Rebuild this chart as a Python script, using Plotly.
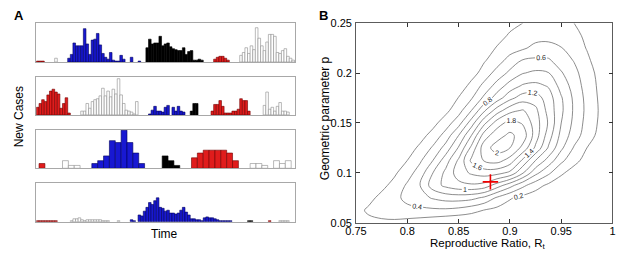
import plotly.graph_objects as go

# ---------------- Panel A data: (colour class, first time bin, new cases per bin)
panel1_runs = [
    ("red", 0, [1, 1, 1]),
    ("white", 7, [4]),
    ("blue", 12, [4, 8, 20, 17, 17, 17, 35, 19, 8, 23, 24, 30, 18, 9, 5, 3, 10, 2, 1, 1, 7, 3, 0, 0, 5, 0, 0, 1]),
    ("black", 42, [15, 24, 19, 20, 20, 27, 17, 19, 20, 16, 14, 13, 12, 12, 15, 8, 11, 12, 2, 2, 3, 2]),
    ("red", 68, [3, 5, 6, 6, 4, 2]),
    ("white", 78, [7, 10, 15, 9, 17, 13, 36, 25, 17, 12, 21, 29, 29, 27, 10, 9, 12, 14, 6, 4, 2]),
]
panel2_runs = [
    ("red", 0, [8, 12, 16, 14, 21, 25, 27, 24, 22, 7, 12, 18, 2]),
    ("white", 17, [4, 4, 12, 7, 14, 16, 17, 20, 28, 20, 25, 19, 27, 22, 38, 21, 12, 5, 4, 3, 1, 14]),
    ("blue", 43, [1, 5, 9, 4, 4, 3, 8, 10, 0, 8, 4, 9, 4, 3]),
    ("black", 59, [4, 12, 12]),
    ("red", 67, [4, 11, 11, 15, 9, 2, 2, 2, 4, 4, 6, 17, 15, 15, 4]),
    ("white", 87, [10, 24, 6, 8, 4, 9, 13, 4, 4, 3]),
]
panel3_runs = [
    ("red", 0, [5]),
    ("white", 4, [8, 3, 3]),
    ("blue", 9, [5, 8, 13, 29, 27, 40, 27, 16, 5]),
    ("black", 21, [13, 8, 3]),
    ("red", 26, [11, 16, 19, 19, 19, 19, 16, 8]),
    ("white", 36, [5, 5, 3, 0, 8, 5, 8]),
]
panel4_runs = [
    ("red", 0, [1, 1, 1, 1, 1, 1, 1, 1]),
    ("white", 13, [1, 3, 3, 4, 2, 1, 2, 2, 2, 2, 2, 2, 1, 1, 1, 0, 0, 0, 1]),
    ("blue", 36, [2, 1, 0, 7, 6, 11, 15, 20, 18, 22, 25, 15, 14, 11, 12, 9, 9, 8, 9, 12, 15, 10, 7, 3, 3,
                  2, 2, 1, 4, 5, 4, 4, 3, 2, 1, 1, 1, 1, 1]),
    ("black", 81, [1, 1]),
    ("red", 89, [1]),
    ("white", 93, [1, 1, 1, 1]),
]

# ---------------- Panel B data: likelihood surface
R_values = [0.75, 0.7625, 0.775, 0.7875, 0.8, 0.8125, 0.825, 0.8375, 0.85, 0.8625, 0.875,
            0.8875, 0.9, 0.9125, 0.925, 0.9375, 0.95, 0.9625, 0.975, 0.9875, 1.0]
p_values = [0.05, 0.0625, 0.075, 0.0875, 0.1, 0.1125, 0.125, 0.1375, 0.15, 0.1625, 0.175,
            0.1875, 0.2, 0.2125, 0.225, 0.2375, 0.25]
likelihood = [
    [0.02, 0.15, 0.16, 0.16, 0.13, 0.10, 0.06, 0.02, 0, 0, 0, 0, 0, 0, 0, 0, 0, 0, 0, 0, 0],
    [0.14, 0.23, 0.28, 0.31, 0.34, 0.35, 0.36, 0.36, 0.33, 0.27, 0.19, 0.14, 0.10, 0.07, 0.04, 0.02, 0.01, 0, 0, 0, 0],
    [0.05, 0.15, 0.25, 0.34, 0.46, 0.53, 0.62, 0.68, 0.69, 0.66, 0.56, 0.37, 0.22, 0.14, 0.09, 0.05, 0.02, 0, 0, 0, 0],
    [0, 0.06, 0.15, 0.26, 0.43, 0.6, 0.9, 1.05, 1.14, 1.17, 1.12, 0.9, 0.68, 0.45, 0.28, 0.16, 0.09, 0.04, 0.02, 0, 0],
    [0, 0.02, 0.08, 0.17, 0.31, 0.5, 0.8, 1.05, 1.3, 1.43, 1.5, 1.47, 1.35, 1.02, 0.66, 0.44, 0.23, 0.12, 0.06, 0.02, 0],
    [0, 0, 0.04, 0.1, 0.2, 0.37, 0.6, 0.91, 1.23, 1.64, 1.82, 1.88, 1.72, 1.36, 1.0, 0.72, 0.45, 0.26, 0.13, 0.05, 0.02],
    [0, 0, 0.02, 0.05, 0.11, 0.24, 0.43, 0.68, 1.02, 1.45, 1.92, 2.08, 2.0, 1.74, 1.36, 0.98, 0.64, 0.38, 0.2, 0.08, 0.03],
    [0, 0, 0, 0.02, 0.06, 0.13, 0.27, 0.48, 0.8, 1.2, 1.7, 1.93, 2.04, 1.92, 1.5, 1.1, 0.74, 0.5, 0.3, 0.14, 0.06],
    [0, 0, 0, 0, 0.02, 0.06, 0.14, 0.3, 0.52, 0.9, 1.35, 1.7, 1.88, 1.78, 1.5, 1.18, 0.8, 0.55, 0.33, 0.17, 0.08],
    [0, 0, 0, 0, 0, 0, 0.03, 0.15, 0.32, 0.6, 0.97, 1.3, 1.53, 1.62, 1.45, 1.13, 0.84, 0.57, 0.35, 0.18, 0.08],
    [0, 0, 0, 0, 0, 0, 0, 0.04, 0.21, 0.38, 0.65, 0.9, 1.14, 1.3, 1.3, 1.1, 0.82, 0.56, 0.34, 0.17, 0.07],
    [0, 0, 0, 0, 0, 0, 0, 0, 0.05, 0.27, 0.45, 0.68, 0.88, 1.02, 1.05, 0.98, 0.72, 0.52, 0.31, 0.16, 0.06],
    [0, 0, 0, 0, 0, 0, 0, 0, 0, 0.1, 0.3, 0.47, 0.65, 0.79, 0.84, 0.81, 0.62, 0.46, 0.29, 0.14, 0.05],
    [0, 0, 0, 0, 0, 0, 0, 0, 0, 0, 0.18, 0.32, 0.47, 0.62, 0.64, 0.63, 0.5, 0.39, 0.24, 0.1, 0.03],
    [0, 0, 0, 0, 0, 0, 0, 0, 0, 0, 0.08, 0.22, 0.32, 0.37, 0.46, 0.47, 0.41, 0.3, 0.19, 0.08, 0.02],
    [0, 0, 0, 0, 0, 0, 0, 0, 0, 0, 0, 0.11, 0.23, 0.29, 0.32, 0.33, 0.3, 0.24, 0.17, 0.05, 0],
    [0, 0, 0, 0, 0, 0, 0, 0, 0, 0, 0, 0, 0.13, 0.2, 0.23, 0.24, 0.23, 0.2, 0.12, 0.04, 0],
]
estimate_R = [0.881]
estimate_p = [0.091]
x_ticks = [0.75, 0.8, 0.85, 0.9, 0.95, 1.0]
x_ticktext = ["0.75", "0.8", "0.85", "0.9", "0.95", "1"]
y_ticks = [0.05, 0.1, 0.15, 0.2, 0.25]
y_ticktext = ["0.05", "0.1", "0.15", "0.2", "0.25"]

# ---------------- styles
FONT = "Liberation Sans, Arial, sans-serif"
fills = {"blue": "#1818d2", "red": "#e01c1c", "black": "#000000", "white": "#ffffff"}
edges = {"blue": "#00005c", "red": "#700000", "black": "#000000", "white": "#8c8c8c"}

fig = go.Figure()

panels = [panel1_runs, panel2_runs, panel3_runs, panel4_runs]
for k, runs in enumerate(panels, start=1):
    for colour, start, counts in runs:
        xs = [start + i for i, c in enumerate(counts) if c > 0]
        ys = [c for c in counts if c > 0]
        fig.add_trace(go.Bar(
            x=xs, y=ys, width=1.0,
            marker=dict(color=fills[colour], line=dict(color=edges[colour], width=0.6)),
            xaxis="x" if k == 1 else f"x{k}", yaxis="y" if k == 1 else f"y{k}",
            showlegend=False, hoverinfo="skip",
        ))

fig.add_trace(go.Contour(
    x=R_values, y=p_values, z=likelihood, xaxis="x5", yaxis="y5",
    autocontour=False,
    contours=dict(start=0.2, end=2.01, size=0.2, coloring="none", showlabels=True,
                  labelfont=dict(size=7, color="#222222", family=FONT), labelformat=".2~g"),
    line=dict(width=0.8, smoothing=1.0, color="#707070"),
    showscale=False, hoverinfo="skip",
))
fig.add_trace(go.Scatter(
    x=estimate_R, y=estimate_p, mode="markers", xaxis="x5", yaxis="y5",
    marker=dict(symbol="cross-thin", size=11, line=dict(color="#ee0000", width=1.6)),
    showlegend=False, hoverinfo="skip",
))

W, H = 617, 255
xdomA = [25.7 / W, 290.7 / W]
ydoms = [
    [1 - 58.8 / H, 1 - 18.3 / H],
    [1 - 114.3 / H, 1 - 74.3 / H],
    [1 - 170.3 / H, 1 - 130.0 / H],
    [1 - 226.3 / H, 1 - 186.0 / H],
]
xranges = [[-0.625, 98.75], [-0.625, 98.75], [-1.0, 43.17], [-0.625, 98.75]]
yranges = [[0, 40.5], [0, 40], [0, 40.3], [0, 40.3]]

layout = dict(
    width=W, height=H, autosize=False,
    margin=dict(l=0, r=0, t=0, b=0),
    paper_bgcolor="white", plot_bgcolor="white",
    barmode="overlay", showlegend=False,
    font=dict(family=FONT, size=11, color="#000"),
)
for k in range(1, 5):
    xa = "xaxis" if k == 1 else f"xaxis{k}"
    ya = "yaxis" if k == 1 else f"yaxis{k}"
    layout[xa] = dict(domain=xdomA, range=xranges[k - 1], anchor="y" if k == 1 else f"y{k}",
                      showline=True, mirror=True, linecolor="#a8a8a8", linewidth=1,
                      showgrid=False, zeroline=False, showticklabels=False, ticks="", fixedrange=True)
    layout[ya] = dict(domain=ydoms[k - 1], range=yranges[k - 1], anchor="x" if k == 1 else f"x{k}",
                      showline=True, mirror=True, linecolor="#a8a8a8", linewidth=1,
                      showgrid=False, zeroline=False, showticklabels=False, ticks="", fixedrange=True)

layout["xaxis5"] = dict(domain=[353 / W, 615.5 / W], range=[0.75, 1.0], anchor="y5",
                        tickvals=x_ticks, ticktext=x_ticktext, ticks="inside", ticklen=4,
                        tickcolor="#333", showline=True, mirror="allticks", linecolor="#333",
                        linewidth=0.8, showgrid=False, zeroline=False, ticklabelstandoff=-2,
                        ticklabeloverflow="allow",
                        tickfont=dict(size=11, family=FONT), fixedrange=True)
layout["yaxis5"] = dict(domain=[1 - 227.5 / H, 1 - 18 / H], range=[0.05, 0.25], anchor="x5",
                        tickvals=y_ticks, ticktext=y_ticktext, ticks="inside", ticklen=4,
                        tickcolor="#333", showline=True, mirror="allticks", linecolor="#333",
                        linewidth=0.8, showgrid=False, zeroline=False, ticklabelstandoff=1,
                        tickfont=dict(size=11, family=FONT), fixedrange=True)

ann = [
    dict(text="<b>A</b>", x=1 / W, y=1, xanchor="left", yanchor="top", font=dict(size=13)),
    dict(text="<b>B</b>", x=313 / W, y=1, xanchor="left", yanchor="top", font=dict(size=13)),
    dict(text="New Cases", x=8 / W, y=1 - 116 / H, textangle=-90, xanchor="center", yanchor="middle",
         font=dict(size=12)),
    dict(text="Time", x=157 / W, y=1 - 239 / H, xanchor="center", yanchor="middle", font=dict(size=12)),
    dict(text="Reproductive Ratio, R<sub>t</sub>", x=488 / W, y=0, xanchor="center",
         yanchor="bottom", yshift=-4, font=dict(size=11.5)),
    dict(text="Geometric parameter p", x=322 / W, y=1 - 118 / H, textangle=-90, xanchor="center",
         yanchor="middle", font=dict(size=12)),
]
for a in ann:
    a.update(xref="paper", yref="paper", showarrow=False)
layout["annotations"] = ann

fig.update_layout(**layout)
fig.write_html("out.html", config={"displayModeBar": False, "staticPlot": True},
               post_script="document.body.style.margin='0';document.body.style.padding='0';")
